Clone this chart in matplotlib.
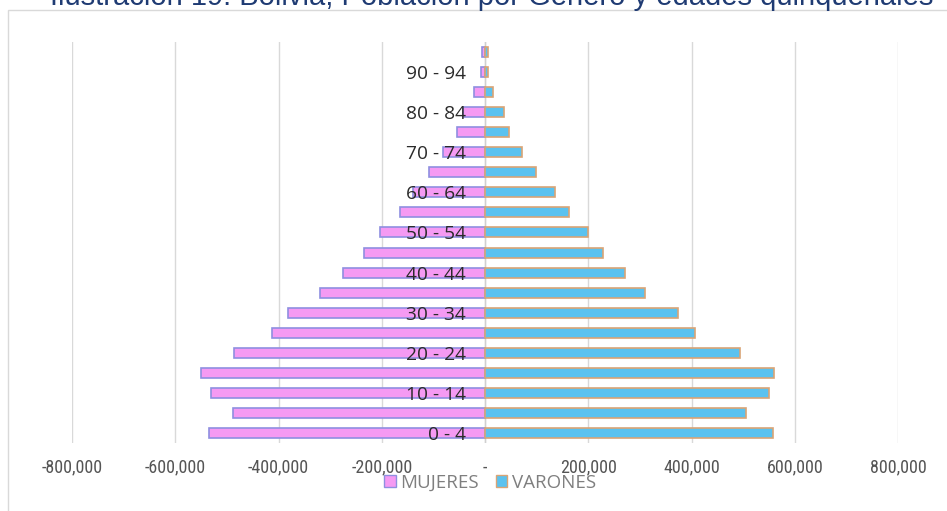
import numpy as np
import matplotlib
matplotlib.use("Agg")
from matplotlib import pyplot as plt
from matplotlib import font_manager
from matplotlib.patches import Rectangle, Patch

# grupos quinquenales, de abajo hacia arriba
edades = ["0 - 4", "5 - 9", "10 - 14", "15 - 19", "20 - 24", "25 - 29", "30 - 34",
          "35 - 39", "40 - 44", "45 - 49", "50 - 54", "55 - 59", "60 - 64", "65 - 69",
          "70 - 74", "75 - 79", "80 - 84", "85 - 89", "90 - 94", "95 y más"]

mujeres = [534000, 489000, 531000, 550000, 487000, 412000, 382000, 320000, 276000, 234000,
           204000, 164000, 140000, 108000, 82000, 55000, 43000, 21000, 8000, 5000]
varones = [557000, 505000, 551000, 560000, 494000, 407000, 373000, 310000, 271000, 229000,
           200000, 162000, 136000, 99000, 72000, 46000, 37000, 16000, 6000, 5000]

x_ticks = [-800000, -600000, -400000, -200000, 0, 200000, 400000, 600000, 800000]
x_labels = ["-800,000", "-600,000", "-400,000", "-200,000", "-",
            "200,000", "400,000", "600,000", "800,000"]

titulo = "Ilustración 19: Bolivia, Población por Género y edades quinquenales"

# fuente estrecha para el eje x si existe alguna
nombres = {f.name for f in font_manager.fontManager.ttflist}
fuente_x, tam_x = "Liberation Sans", 10.5
for n in ["Liberation Sans Narrow", "Arial Narrow", "Roboto Condensed", "Open Sans Condensed"]:
    if n in nombres:
        fuente_x, tam_x = n, 13
        break

W, H = 947, 511
fig = plt.figure(figsize=(W / 100, H / 100), dpi=100)
ax = fig.add_axes([72 / W, (H - 443) / H, 826 / W, 401 / H])

y = np.arange(len(edades))
ax.barh(y, -np.array(mujeres), height=0.5, color="#f59af3", edgecolor="#8f8fe0",
        linewidth=1.2, zorder=1)
ax.barh(y, varones, height=0.5, color="#5bc2ef", edgecolor="#d9a476",
        linewidth=1.2, zorder=1)

ax.set_xlim(-800000, 800000)
ax.set_ylim(-0.5, len(edades) - 0.5)

ax.set_xticks(x_ticks)
ax.set_xticklabels(x_labels, color="#555555", fontsize=tam_x, family=fuente_x)
ax.tick_params(axis="x", length=0, pad=11)
ax.grid(axis="x", color="#d9d9d9", linewidth=1)
ax.xaxis.set_zorder(0.5)

# etiquetas de edad sobre el eje central
ax.spines["left"].set_position(("data", 0))
ax.set_yticks(y[::2])
ax.set_yticklabels(edades[::2], fontsize=13.8, color="#2b2b2b", family="Open Sans")
ax.tick_params(axis="y", length=0, pad=14)
ax.yaxis.set_zorder(3)
ax.axvline(0, color="#d0d0d0", linewidth=1, zorder=0.6)

for s in ax.spines.values():
    s.set_visible(False)

# marco del gráfico
fig.patches.append(Rectangle((8 / W, -0.1), 1.1, 1.1 - 10 / H, transform=fig.transFigure,
                             fill=False, edgecolor="#d9d9d9", linewidth=1))

handles = [Patch(facecolor="#f59af3", edgecolor="#8f8fe0", label="MUJERES"),
           Patch(facecolor="#5bc2ef", edgecolor="#d9a476", label="VARONES")]
fig.legend(handles=handles, loc="center", bbox_to_anchor=(490 / W, 1 - 483 / H), ncol=2,
           frameon=False, handlelength=0.6, handleheight=0.6, handletextpad=0.25,
           columnspacing=0.9, labelcolor="#7f7f7f",
           prop={"family": "Open Sans", "size": 13.5})

# título cortado en el borde superior
t = fig.text(492 / W, 1 - 5 / H, titulo, ha="center", va="baseline",
             color="#1f3b73", fontsize=20, family="Liberation Sans")
fig.canvas.draw()
ancho = t.get_window_extent().width
t.set_fontsize(20 * 880 / ancho)

fig.savefig("out.png", dpi=100)
